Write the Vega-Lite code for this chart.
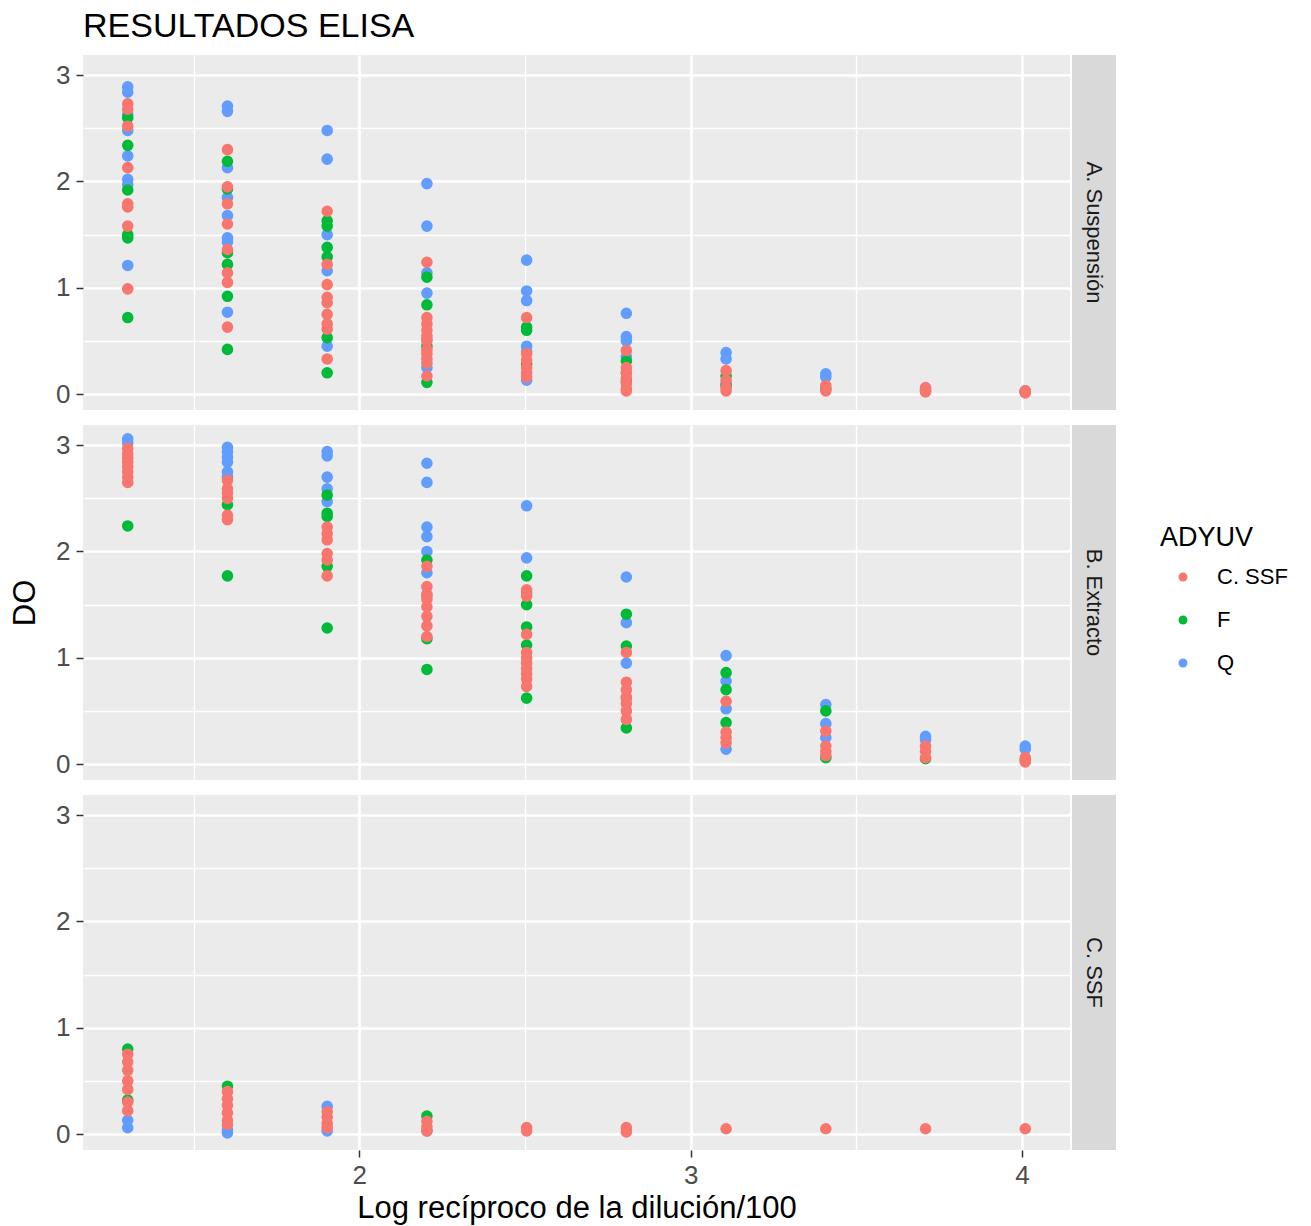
{
  "$schema": "https://vega.github.io/schema/vega-lite/v6.json",
  "padding": {"left": 9, "top": 10, "right": 5, "bottom": 2},
  "title": {"text": "RESULTADOS ELISA", "anchor": "start", "frame": "group", "fontSize": 34, "fontWeight": "normal", "color": "#000000", "offset": 11},
  "datasets": {
    "elisa": [
      {"panel":"A. Suspensión","dil":1.301,"adyuv":"Q","do":2.89},
      {"panel":"A. Suspensión","dil":1.301,"adyuv":"Q","do":2.84},
      {"panel":"A. Suspensión","dil":1.301,"adyuv":"Q","do":2.63},
      {"panel":"A. Suspensión","dil":1.301,"adyuv":"Q","do":2.48},
      {"panel":"A. Suspensión","dil":1.301,"adyuv":"Q","do":2.24},
      {"panel":"A. Suspensión","dil":1.301,"adyuv":"Q","do":2.02},
      {"panel":"A. Suspensión","dil":1.301,"adyuv":"Q","do":1.97},
      {"panel":"A. Suspensión","dil":1.301,"adyuv":"Q","do":1.21},
      {"panel":"A. Suspensión","dil":1.301,"adyuv":"F","do":2.60},
      {"panel":"A. Suspensión","dil":1.301,"adyuv":"F","do":2.34},
      {"panel":"A. Suspensión","dil":1.301,"adyuv":"F","do":1.92},
      {"panel":"A. Suspensión","dil":1.301,"adyuv":"F","do":1.50},
      {"panel":"A. Suspensión","dil":1.301,"adyuv":"F","do":1.47},
      {"panel":"A. Suspensión","dil":1.301,"adyuv":"F","do":0.72},
      {"panel":"A. Suspensión","dil":1.301,"adyuv":"C. SSF","do":2.73},
      {"panel":"A. Suspensión","dil":1.301,"adyuv":"C. SSF","do":2.68},
      {"panel":"A. Suspensión","dil":1.301,"adyuv":"C. SSF","do":2.52},
      {"panel":"A. Suspensión","dil":1.301,"adyuv":"C. SSF","do":2.13},
      {"panel":"A. Suspensión","dil":1.301,"adyuv":"C. SSF","do":1.79},
      {"panel":"A. Suspensión","dil":1.301,"adyuv":"C. SSF","do":1.76},
      {"panel":"A. Suspensión","dil":1.301,"adyuv":"C. SSF","do":1.58},
      {"panel":"A. Suspensión","dil":1.301,"adyuv":"C. SSF","do":0.99},
      {"panel":"A. Suspensión","dil":1.602,"adyuv":"Q","do":2.71},
      {"panel":"A. Suspensión","dil":1.602,"adyuv":"Q","do":2.66},
      {"panel":"A. Suspensión","dil":1.602,"adyuv":"Q","do":2.13},
      {"panel":"A. Suspensión","dil":1.602,"adyuv":"Q","do":1.85},
      {"panel":"A. Suspensión","dil":1.602,"adyuv":"Q","do":1.68},
      {"panel":"A. Suspensión","dil":1.602,"adyuv":"Q","do":1.47},
      {"panel":"A. Suspensión","dil":1.602,"adyuv":"Q","do":1.43},
      {"panel":"A. Suspensión","dil":1.602,"adyuv":"Q","do":0.77},
      {"panel":"A. Suspensión","dil":1.602,"adyuv":"F","do":2.19},
      {"panel":"A. Suspensión","dil":1.602,"adyuv":"F","do":1.93},
      {"panel":"A. Suspensión","dil":1.602,"adyuv":"F","do":1.33},
      {"panel":"A. Suspensión","dil":1.602,"adyuv":"F","do":1.22},
      {"panel":"A. Suspensión","dil":1.602,"adyuv":"F","do":0.92},
      {"panel":"A. Suspensión","dil":1.602,"adyuv":"F","do":0.42},
      {"panel":"A. Suspensión","dil":1.602,"adyuv":"C. SSF","do":2.30},
      {"panel":"A. Suspensión","dil":1.602,"adyuv":"C. SSF","do":1.95},
      {"panel":"A. Suspensión","dil":1.602,"adyuv":"C. SSF","do":1.79},
      {"panel":"A. Suspensión","dil":1.602,"adyuv":"C. SSF","do":1.60},
      {"panel":"A. Suspensión","dil":1.602,"adyuv":"C. SSF","do":1.36},
      {"panel":"A. Suspensión","dil":1.602,"adyuv":"C. SSF","do":1.14},
      {"panel":"A. Suspensión","dil":1.602,"adyuv":"C. SSF","do":1.05},
      {"panel":"A. Suspensión","dil":1.602,"adyuv":"C. SSF","do":0.63},
      {"panel":"A. Suspensión","dil":1.903,"adyuv":"Q","do":2.48},
      {"panel":"A. Suspensión","dil":1.903,"adyuv":"Q","do":2.21},
      {"panel":"A. Suspensión","dil":1.903,"adyuv":"Q","do":1.50},
      {"panel":"A. Suspensión","dil":1.903,"adyuv":"Q","do":1.16},
      {"panel":"A. Suspensión","dil":1.903,"adyuv":"Q","do":0.45},
      {"panel":"A. Suspensión","dil":1.903,"adyuv":"F","do":1.63},
      {"panel":"A. Suspensión","dil":1.903,"adyuv":"F","do":1.58},
      {"panel":"A. Suspensión","dil":1.903,"adyuv":"F","do":1.38},
      {"panel":"A. Suspensión","dil":1.903,"adyuv":"F","do":1.29},
      {"panel":"A. Suspensión","dil":1.903,"adyuv":"F","do":0.53},
      {"panel":"A. Suspensión","dil":1.903,"adyuv":"F","do":0.20},
      {"panel":"A. Suspensión","dil":1.903,"adyuv":"C. SSF","do":1.72},
      {"panel":"A. Suspensión","dil":1.903,"adyuv":"C. SSF","do":1.22},
      {"panel":"A. Suspensión","dil":1.903,"adyuv":"C. SSF","do":1.03},
      {"panel":"A. Suspensión","dil":1.903,"adyuv":"C. SSF","do":0.91},
      {"panel":"A. Suspensión","dil":1.903,"adyuv":"C. SSF","do":0.86},
      {"panel":"A. Suspensión","dil":1.903,"adyuv":"C. SSF","do":0.75},
      {"panel":"A. Suspensión","dil":1.903,"adyuv":"C. SSF","do":0.66},
      {"panel":"A. Suspensión","dil":1.903,"adyuv":"C. SSF","do":0.61},
      {"panel":"A. Suspensión","dil":1.903,"adyuv":"C. SSF","do":0.33},
      {"panel":"A. Suspensión","dil":2.204,"adyuv":"Q","do":1.98},
      {"panel":"A. Suspensión","dil":2.204,"adyuv":"Q","do":1.58},
      {"panel":"A. Suspensión","dil":2.204,"adyuv":"Q","do":1.14},
      {"panel":"A. Suspensión","dil":2.204,"adyuv":"Q","do":0.95},
      {"panel":"A. Suspensión","dil":2.204,"adyuv":"Q","do":0.52},
      {"panel":"A. Suspensión","dil":2.204,"adyuv":"Q","do":0.25},
      {"panel":"A. Suspensión","dil":2.204,"adyuv":"F","do":1.10},
      {"panel":"A. Suspensión","dil":2.204,"adyuv":"F","do":0.84},
      {"panel":"A. Suspensión","dil":2.204,"adyuv":"F","do":0.45},
      {"panel":"A. Suspensión","dil":2.204,"adyuv":"F","do":0.11},
      {"panel":"A. Suspensión","dil":2.204,"adyuv":"C. SSF","do":1.24},
      {"panel":"A. Suspensión","dil":2.204,"adyuv":"C. SSF","do":0.72},
      {"panel":"A. Suspensión","dil":2.204,"adyuv":"C. SSF","do":0.66},
      {"panel":"A. Suspensión","dil":2.204,"adyuv":"C. SSF","do":0.60},
      {"panel":"A. Suspensión","dil":2.204,"adyuv":"C. SSF","do":0.55},
      {"panel":"A. Suspensión","dil":2.204,"adyuv":"C. SSF","do":0.50},
      {"panel":"A. Suspensión","dil":2.204,"adyuv":"C. SSF","do":0.42},
      {"panel":"A. Suspensión","dil":2.204,"adyuv":"C. SSF","do":0.38},
      {"panel":"A. Suspensión","dil":2.204,"adyuv":"C. SSF","do":0.33},
      {"panel":"A. Suspensión","dil":2.204,"adyuv":"C. SSF","do":0.29},
      {"panel":"A. Suspensión","dil":2.204,"adyuv":"C. SSF","do":0.17},
      {"panel":"A. Suspensión","dil":2.505,"adyuv":"Q","do":1.26},
      {"panel":"A. Suspensión","dil":2.505,"adyuv":"Q","do":0.97},
      {"panel":"A. Suspensión","dil":2.505,"adyuv":"Q","do":0.88},
      {"panel":"A. Suspensión","dil":2.505,"adyuv":"Q","do":0.45},
      {"panel":"A. Suspensión","dil":2.505,"adyuv":"Q","do":0.40},
      {"panel":"A. Suspensión","dil":2.505,"adyuv":"Q","do":0.13},
      {"panel":"A. Suspensión","dil":2.505,"adyuv":"F","do":0.63},
      {"panel":"A. Suspensión","dil":2.505,"adyuv":"F","do":0.60},
      {"panel":"A. Suspensión","dil":2.505,"adyuv":"F","do":0.28},
      {"panel":"A. Suspensión","dil":2.505,"adyuv":"C. SSF","do":0.72},
      {"panel":"A. Suspensión","dil":2.505,"adyuv":"C. SSF","do":0.38},
      {"panel":"A. Suspensión","dil":2.505,"adyuv":"C. SSF","do":0.32},
      {"panel":"A. Suspensión","dil":2.505,"adyuv":"C. SSF","do":0.25},
      {"panel":"A. Suspensión","dil":2.505,"adyuv":"C. SSF","do":0.20},
      {"panel":"A. Suspensión","dil":2.505,"adyuv":"C. SSF","do":0.16},
      {"panel":"A. Suspensión","dil":2.806,"adyuv":"Q","do":0.76},
      {"panel":"A. Suspensión","dil":2.806,"adyuv":"Q","do":0.54},
      {"panel":"A. Suspensión","dil":2.806,"adyuv":"Q","do":0.50},
      {"panel":"A. Suspensión","dil":2.806,"adyuv":"Q","do":0.35},
      {"panel":"A. Suspensión","dil":2.806,"adyuv":"Q","do":0.20},
      {"panel":"A. Suspensión","dil":2.806,"adyuv":"F","do":0.31},
      {"panel":"A. Suspensión","dil":2.806,"adyuv":"F","do":0.12},
      {"panel":"A. Suspensión","dil":2.806,"adyuv":"C. SSF","do":0.41},
      {"panel":"A. Suspensión","dil":2.806,"adyuv":"C. SSF","do":0.25},
      {"panel":"A. Suspensión","dil":2.806,"adyuv":"C. SSF","do":0.20},
      {"panel":"A. Suspensión","dil":2.806,"adyuv":"C. SSF","do":0.15},
      {"panel":"A. Suspensión","dil":2.806,"adyuv":"C. SSF","do":0.10},
      {"panel":"A. Suspensión","dil":2.806,"adyuv":"C. SSF","do":0.05},
      {"panel":"A. Suspensión","dil":2.806,"adyuv":"C. SSF","do":0.03},
      {"panel":"A. Suspensión","dil":3.107,"adyuv":"Q","do":0.39},
      {"panel":"A. Suspensión","dil":3.107,"adyuv":"Q","do":0.33},
      {"panel":"A. Suspensión","dil":3.107,"adyuv":"Q","do":0.10},
      {"panel":"A. Suspensión","dil":3.107,"adyuv":"F","do":0.17},
      {"panel":"A. Suspensión","dil":3.107,"adyuv":"F","do":0.08},
      {"panel":"A. Suspensión","dil":3.107,"adyuv":"C. SSF","do":0.22},
      {"panel":"A. Suspensión","dil":3.107,"adyuv":"C. SSF","do":0.13},
      {"panel":"A. Suspensión","dil":3.107,"adyuv":"C. SSF","do":0.06},
      {"panel":"A. Suspensión","dil":3.107,"adyuv":"C. SSF","do":0.03},
      {"panel":"A. Suspensión","dil":3.408,"adyuv":"Q","do":0.19},
      {"panel":"A. Suspensión","dil":3.408,"adyuv":"Q","do":0.16},
      {"panel":"A. Suspensión","dil":3.408,"adyuv":"F","do":0.05},
      {"panel":"A. Suspensión","dil":3.408,"adyuv":"C. SSF","do":0.08},
      {"panel":"A. Suspensión","dil":3.408,"adyuv":"C. SSF","do":0.03},
      {"panel":"A. Suspensión","dil":3.709,"adyuv":"Q","do":0.05},
      {"panel":"A. Suspensión","dil":3.709,"adyuv":"F","do":0.03},
      {"panel":"A. Suspensión","dil":3.709,"adyuv":"C. SSF","do":0.06},
      {"panel":"A. Suspensión","dil":3.709,"adyuv":"C. SSF","do":0.02},
      {"panel":"A. Suspensión","dil":4.010,"adyuv":"Q","do":0.03},
      {"panel":"A. Suspensión","dil":4.010,"adyuv":"F","do":0.02},
      {"panel":"A. Suspensión","dil":4.010,"adyuv":"C. SSF","do":0.03},
      {"panel":"A. Suspensión","dil":4.010,"adyuv":"C. SSF","do":0.01},

      {"panel":"B. Extracto","dil":1.301,"adyuv":"Q","do":3.06},
      {"panel":"B. Extracto","dil":1.301,"adyuv":"Q","do":3.02},
      {"panel":"B. Extracto","dil":1.301,"adyuv":"F","do":2.24},
      {"panel":"B. Extracto","dil":1.301,"adyuv":"C. SSF","do":2.97},
      {"panel":"B. Extracto","dil":1.301,"adyuv":"C. SSF","do":2.92},
      {"panel":"B. Extracto","dil":1.301,"adyuv":"C. SSF","do":2.88},
      {"panel":"B. Extracto","dil":1.301,"adyuv":"C. SSF","do":2.84},
      {"panel":"B. Extracto","dil":1.301,"adyuv":"C. SSF","do":2.80},
      {"panel":"B. Extracto","dil":1.301,"adyuv":"C. SSF","do":2.75},
      {"panel":"B. Extracto","dil":1.301,"adyuv":"C. SSF","do":2.70},
      {"panel":"B. Extracto","dil":1.301,"adyuv":"C. SSF","do":2.65},
      {"panel":"B. Extracto","dil":1.602,"adyuv":"Q","do":2.98},
      {"panel":"B. Extracto","dil":1.602,"adyuv":"Q","do":2.94},
      {"panel":"B. Extracto","dil":1.602,"adyuv":"Q","do":2.89},
      {"panel":"B. Extracto","dil":1.602,"adyuv":"Q","do":2.84},
      {"panel":"B. Extracto","dil":1.602,"adyuv":"Q","do":2.75},
      {"panel":"B. Extracto","dil":1.602,"adyuv":"Q","do":2.70},
      {"panel":"B. Extracto","dil":1.602,"adyuv":"F","do":2.44},
      {"panel":"B. Extracto","dil":1.602,"adyuv":"F","do":1.77},
      {"panel":"B. Extracto","dil":1.602,"adyuv":"C. SSF","do":2.67},
      {"panel":"B. Extracto","dil":1.602,"adyuv":"C. SSF","do":2.59},
      {"panel":"B. Extracto","dil":1.602,"adyuv":"C. SSF","do":2.55},
      {"panel":"B. Extracto","dil":1.602,"adyuv":"C. SSF","do":2.50},
      {"panel":"B. Extracto","dil":1.602,"adyuv":"C. SSF","do":2.34},
      {"panel":"B. Extracto","dil":1.602,"adyuv":"C. SSF","do":2.30},
      {"panel":"B. Extracto","dil":1.903,"adyuv":"Q","do":2.94},
      {"panel":"B. Extracto","dil":1.903,"adyuv":"Q","do":2.90},
      {"panel":"B. Extracto","dil":1.903,"adyuv":"Q","do":2.70},
      {"panel":"B. Extracto","dil":1.903,"adyuv":"Q","do":2.59},
      {"panel":"B. Extracto","dil":1.903,"adyuv":"Q","do":2.47},
      {"panel":"B. Extracto","dil":1.903,"adyuv":"F","do":2.53},
      {"panel":"B. Extracto","dil":1.903,"adyuv":"F","do":2.36},
      {"panel":"B. Extracto","dil":1.903,"adyuv":"F","do":2.33},
      {"panel":"B. Extracto","dil":1.903,"adyuv":"F","do":1.86},
      {"panel":"B. Extracto","dil":1.903,"adyuv":"F","do":1.28},
      {"panel":"B. Extracto","dil":1.903,"adyuv":"C. SSF","do":2.23},
      {"panel":"B. Extracto","dil":1.903,"adyuv":"C. SSF","do":2.17},
      {"panel":"B. Extracto","dil":1.903,"adyuv":"C. SSF","do":2.11},
      {"panel":"B. Extracto","dil":1.903,"adyuv":"C. SSF","do":1.98},
      {"panel":"B. Extracto","dil":1.903,"adyuv":"C. SSF","do":1.92},
      {"panel":"B. Extracto","dil":1.903,"adyuv":"C. SSF","do":1.77},
      {"panel":"B. Extracto","dil":2.204,"adyuv":"Q","do":2.83},
      {"panel":"B. Extracto","dil":2.204,"adyuv":"Q","do":2.65},
      {"panel":"B. Extracto","dil":2.204,"adyuv":"Q","do":2.23},
      {"panel":"B. Extracto","dil":2.204,"adyuv":"Q","do":2.14},
      {"panel":"B. Extracto","dil":2.204,"adyuv":"Q","do":2.00},
      {"panel":"B. Extracto","dil":2.204,"adyuv":"Q","do":1.80},
      {"panel":"B. Extracto","dil":2.204,"adyuv":"Q","do":1.58},
      {"panel":"B. Extracto","dil":2.204,"adyuv":"F","do":1.92},
      {"panel":"B. Extracto","dil":2.204,"adyuv":"F","do":1.18},
      {"panel":"B. Extracto","dil":2.204,"adyuv":"F","do":0.89},
      {"panel":"B. Extracto","dil":2.204,"adyuv":"C. SSF","do":1.86},
      {"panel":"B. Extracto","dil":2.204,"adyuv":"C. SSF","do":1.67},
      {"panel":"B. Extracto","dil":2.204,"adyuv":"C. SSF","do":1.60},
      {"panel":"B. Extracto","dil":2.204,"adyuv":"C. SSF","do":1.55},
      {"panel":"B. Extracto","dil":2.204,"adyuv":"C. SSF","do":1.48},
      {"panel":"B. Extracto","dil":2.204,"adyuv":"C. SSF","do":1.39},
      {"panel":"B. Extracto","dil":2.204,"adyuv":"C. SSF","do":1.30},
      {"panel":"B. Extracto","dil":2.204,"adyuv":"C. SSF","do":1.20},
      {"panel":"B. Extracto","dil":2.505,"adyuv":"Q","do":2.43},
      {"panel":"B. Extracto","dil":2.505,"adyuv":"Q","do":1.94},
      {"panel":"B. Extracto","dil":2.505,"adyuv":"Q","do":1.61},
      {"panel":"B. Extracto","dil":2.505,"adyuv":"F","do":1.77},
      {"panel":"B. Extracto","dil":2.505,"adyuv":"F","do":1.50},
      {"panel":"B. Extracto","dil":2.505,"adyuv":"F","do":1.29},
      {"panel":"B. Extracto","dil":2.505,"adyuv":"F","do":1.12},
      {"panel":"B. Extracto","dil":2.505,"adyuv":"F","do":0.62},
      {"panel":"B. Extracto","dil":2.505,"adyuv":"C. SSF","do":1.64},
      {"panel":"B. Extracto","dil":2.505,"adyuv":"C. SSF","do":1.58},
      {"panel":"B. Extracto","dil":2.505,"adyuv":"C. SSF","do":1.22},
      {"panel":"B. Extracto","dil":2.505,"adyuv":"C. SSF","do":1.05},
      {"panel":"B. Extracto","dil":2.505,"adyuv":"C. SSF","do":1.00},
      {"panel":"B. Extracto","dil":2.505,"adyuv":"C. SSF","do":0.95},
      {"panel":"B. Extracto","dil":2.505,"adyuv":"C. SSF","do":0.90},
      {"panel":"B. Extracto","dil":2.505,"adyuv":"C. SSF","do":0.85},
      {"panel":"B. Extracto","dil":2.505,"adyuv":"C. SSF","do":0.80},
      {"panel":"B. Extracto","dil":2.505,"adyuv":"C. SSF","do":0.73},
      {"panel":"B. Extracto","dil":2.806,"adyuv":"Q","do":1.76},
      {"panel":"B. Extracto","dil":2.806,"adyuv":"Q","do":1.33},
      {"panel":"B. Extracto","dil":2.806,"adyuv":"Q","do":0.95},
      {"panel":"B. Extracto","dil":2.806,"adyuv":"Q","do":0.62},
      {"panel":"B. Extracto","dil":2.806,"adyuv":"F","do":1.41},
      {"panel":"B. Extracto","dil":2.806,"adyuv":"F","do":1.11},
      {"panel":"B. Extracto","dil":2.806,"adyuv":"F","do":0.34},
      {"panel":"B. Extracto","dil":2.806,"adyuv":"C. SSF","do":1.05},
      {"panel":"B. Extracto","dil":2.806,"adyuv":"C. SSF","do":0.77},
      {"panel":"B. Extracto","dil":2.806,"adyuv":"C. SSF","do":0.70},
      {"panel":"B. Extracto","dil":2.806,"adyuv":"C. SSF","do":0.63},
      {"panel":"B. Extracto","dil":2.806,"adyuv":"C. SSF","do":0.57},
      {"panel":"B. Extracto","dil":2.806,"adyuv":"C. SSF","do":0.50},
      {"panel":"B. Extracto","dil":2.806,"adyuv":"C. SSF","do":0.42},
      {"panel":"B. Extracto","dil":3.107,"adyuv":"Q","do":1.02},
      {"panel":"B. Extracto","dil":3.107,"adyuv":"Q","do":0.78},
      {"panel":"B. Extracto","dil":3.107,"adyuv":"Q","do":0.52},
      {"panel":"B. Extracto","dil":3.107,"adyuv":"Q","do":0.14},
      {"panel":"B. Extracto","dil":3.107,"adyuv":"F","do":0.86},
      {"panel":"B. Extracto","dil":3.107,"adyuv":"F","do":0.70},
      {"panel":"B. Extracto","dil":3.107,"adyuv":"F","do":0.39},
      {"panel":"B. Extracto","dil":3.107,"adyuv":"C. SSF","do":0.59},
      {"panel":"B. Extracto","dil":3.107,"adyuv":"C. SSF","do":0.30},
      {"panel":"B. Extracto","dil":3.107,"adyuv":"C. SSF","do":0.25},
      {"panel":"B. Extracto","dil":3.107,"adyuv":"C. SSF","do":0.20},
      {"panel":"B. Extracto","dil":3.408,"adyuv":"Q","do":0.56},
      {"panel":"B. Extracto","dil":3.408,"adyuv":"Q","do":0.38},
      {"panel":"B. Extracto","dil":3.408,"adyuv":"Q","do":0.25},
      {"panel":"B. Extracto","dil":3.408,"adyuv":"F","do":0.50},
      {"panel":"B. Extracto","dil":3.408,"adyuv":"F","do":0.06},
      {"panel":"B. Extracto","dil":3.408,"adyuv":"C. SSF","do":0.31},
      {"panel":"B. Extracto","dil":3.408,"adyuv":"C. SSF","do":0.17},
      {"panel":"B. Extracto","dil":3.408,"adyuv":"C. SSF","do":0.12},
      {"panel":"B. Extracto","dil":3.408,"adyuv":"C. SSF","do":0.08},
      {"panel":"B. Extracto","dil":3.709,"adyuv":"Q","do":0.26},
      {"panel":"B. Extracto","dil":3.709,"adyuv":"Q","do":0.23},
      {"panel":"B. Extracto","dil":3.709,"adyuv":"F","do":0.05},
      {"panel":"B. Extracto","dil":3.709,"adyuv":"C. SSF","do":0.17},
      {"panel":"B. Extracto","dil":3.709,"adyuv":"C. SSF","do":0.12},
      {"panel":"B. Extracto","dil":3.709,"adyuv":"C. SSF","do":0.06},
      {"panel":"B. Extracto","dil":4.010,"adyuv":"Q","do":0.17},
      {"panel":"B. Extracto","dil":4.010,"adyuv":"Q","do":0.14},
      {"panel":"B. Extracto","dil":4.010,"adyuv":"F","do":0.04},
      {"panel":"B. Extracto","dil":4.010,"adyuv":"C. SSF","do":0.06},
      {"panel":"B. Extracto","dil":4.010,"adyuv":"C. SSF","do":0.02},

      {"panel":"C. SSF","dil":1.301,"adyuv":"F","do":0.80},
      {"panel":"C. SSF","dil":1.301,"adyuv":"F","do":0.32},
      {"panel":"C. SSF","dil":1.301,"adyuv":"Q","do":0.13},
      {"panel":"C. SSF","dil":1.301,"adyuv":"Q","do":0.06},
      {"panel":"C. SSF","dil":1.301,"adyuv":"C. SSF","do":0.75},
      {"panel":"C. SSF","dil":1.301,"adyuv":"C. SSF","do":0.68},
      {"panel":"C. SSF","dil":1.301,"adyuv":"C. SSF","do":0.60},
      {"panel":"C. SSF","dil":1.301,"adyuv":"C. SSF","do":0.50},
      {"panel":"C. SSF","dil":1.301,"adyuv":"C. SSF","do":0.42},
      {"panel":"C. SSF","dil":1.301,"adyuv":"C. SSF","do":0.30},
      {"panel":"C. SSF","dil":1.301,"adyuv":"C. SSF","do":0.22},
      {"panel":"C. SSF","dil":1.602,"adyuv":"F","do":0.45},
      {"panel":"C. SSF","dil":1.602,"adyuv":"Q","do":0.04},
      {"panel":"C. SSF","dil":1.602,"adyuv":"Q","do":0.01},
      {"panel":"C. SSF","dil":1.602,"adyuv":"C. SSF","do":0.40},
      {"panel":"C. SSF","dil":1.602,"adyuv":"C. SSF","do":0.33},
      {"panel":"C. SSF","dil":1.602,"adyuv":"C. SSF","do":0.27},
      {"panel":"C. SSF","dil":1.602,"adyuv":"C. SSF","do":0.20},
      {"panel":"C. SSF","dil":1.602,"adyuv":"C. SSF","do":0.13},
      {"panel":"C. SSF","dil":1.602,"adyuv":"C. SSF","do":0.09},
      {"panel":"C. SSF","dil":1.903,"adyuv":"Q","do":0.26},
      {"panel":"C. SSF","dil":1.903,"adyuv":"Q","do":0.03},
      {"panel":"C. SSF","dil":1.903,"adyuv":"C. SSF","do":0.21},
      {"panel":"C. SSF","dil":1.903,"adyuv":"C. SSF","do":0.16},
      {"panel":"C. SSF","dil":1.903,"adyuv":"C. SSF","do":0.10},
      {"panel":"C. SSF","dil":1.903,"adyuv":"C. SSF","do":0.06},
      {"panel":"C. SSF","dil":2.204,"adyuv":"F","do":0.17},
      {"panel":"C. SSF","dil":2.204,"adyuv":"Q","do":0.03},
      {"panel":"C. SSF","dil":2.204,"adyuv":"C. SSF","do":0.12},
      {"panel":"C. SSF","dil":2.204,"adyuv":"C. SSF","do":0.07},
      {"panel":"C. SSF","dil":2.204,"adyuv":"C. SSF","do":0.03},
      {"panel":"C. SSF","dil":2.505,"adyuv":"C. SSF","do":0.06},
      {"panel":"C. SSF","dil":2.505,"adyuv":"C. SSF","do":0.03},
      {"panel":"C. SSF","dil":2.806,"adyuv":"C. SSF","do":0.06},
      {"panel":"C. SSF","dil":2.806,"adyuv":"C. SSF","do":0.02},
      {"panel":"C. SSF","dil":3.107,"adyuv":"C. SSF","do":0.05},
      {"panel":"C. SSF","dil":3.408,"adyuv":"C. SSF","do":0.05},
      {"panel":"C. SSF","dil":3.709,"adyuv":"C. SSF","do":0.05},
      {"panel":"C. SSF","dil":4.010,"adyuv":"C. SSF","do":0.05}
    ]
  },
  "vconcat": [
    {
      "hconcat": [
        {
          "width": 987, "height": 355,
          "data": {"name": "elisa"},
          "transform": [{"filter": {"field": "panel", "equal": "A. Suspensión"}}],
          "mark": {"type": "circle", "size": 135, "opacity": 1},
          "encoding": {
            "x": {"field": "dil", "type": "quantitative",
                  "scale": {"domain": [1.166, 4.145], "nice": false, "zero": false},
                  "axis": {"values": [1.5, 2, 2.5, 3, 3.5, 4], "labels": false, "ticks": false, "title": null,
                           "gridWidth": {"condition": {"test": "datum.value % 1 !== 0", "value": 1.3}, "value": 2.6}}},
            "y": {"field": "do", "type": "quantitative",
                  "scale": {"domain": [-0.15, 3.19], "nice": false, "zero": false},
                  "axis": {"values": [0, 0.5, 1, 1.5, 2, 2.5, 3], "title": null, "labelOverlap": false,
                           "labelExpr": "datum.value % 1 === 0 ? format(datum.value, 'd') : ''",
                           "tickOpacity": {"condition": {"test": "datum.value % 1 !== 0", "value": 0}, "value": 1},
                           "gridWidth": {"condition": {"test": "datum.value % 1 !== 0", "value": 1.3}, "value": 2.6}}},
            "color": {"field": "adyuv", "type": "nominal",
                      "scale": {"domain": ["C. SSF", "F", "Q"], "range": ["#F8766D", "#00BA38", "#619CFF"]},
                      "legend": {"title": "ADYUV", "orient": "none", "legendX": 1077, "legendY": 470}}
          }
        },
        {
          "width": 44, "height": 355,
          "data": {"values": [{"panel": "A. Suspensión"}]},
          "view": {"fill": "#D9D9D9", "stroke": null},
          "mark": {"type": "text", "angle": 90, "fontSize": 22, "color": "#1A1A1A"},
          "encoding": {"text": {"field": "panel"}}
        }
      ],
      "spacing": 2
    },
    {
      "hconcat": [
        {
          "width": 987, "height": 355,
          "data": {"name": "elisa"},
          "transform": [{"filter": {"field": "panel", "equal": "B. Extracto"}}],
          "mark": {"type": "circle", "size": 135, "opacity": 1},
          "encoding": {
            "x": {"field": "dil", "type": "quantitative",
                  "scale": {"domain": [1.166, 4.145], "nice": false, "zero": false},
                  "axis": {"values": [1.5, 2, 2.5, 3, 3.5, 4], "labels": false, "ticks": false, "title": null,
                           "gridWidth": {"condition": {"test": "datum.value % 1 !== 0", "value": 1.3}, "value": 2.6}}},
            "y": {"field": "do", "type": "quantitative",
                  "scale": {"domain": [-0.15, 3.19], "nice": false, "zero": false},
                  "axis": {"values": [0, 0.5, 1, 1.5, 2, 2.5, 3], "title": "DO", "titlePadding": 14, "labelOverlap": false,
                           "labelExpr": "datum.value % 1 === 0 ? format(datum.value, 'd') : ''",
                           "tickOpacity": {"condition": {"test": "datum.value % 1 !== 0", "value": 0}, "value": 1},
                           "gridWidth": {"condition": {"test": "datum.value % 1 !== 0", "value": 1.3}, "value": 2.6}}},
            "color": {"field": "adyuv", "type": "nominal",
                      "scale": {"domain": ["C. SSF", "F", "Q"], "range": ["#F8766D", "#00BA38", "#619CFF"]},
                      "legend": {"title": "ADYUV", "orient": "none", "legendX": 1077, "legendY": 470}}
          }
        },
        {
          "width": 44, "height": 355,
          "data": {"values": [{"panel": "B. Extracto"}]},
          "view": {"fill": "#D9D9D9", "stroke": null},
          "mark": {"type": "text", "angle": 90, "fontSize": 22, "color": "#1A1A1A"},
          "encoding": {"text": {"field": "panel"}}
        }
      ],
      "spacing": 2
    },
    {
      "hconcat": [
        {
          "width": 987, "height": 355,
          "data": {"name": "elisa"},
          "transform": [{"filter": {"field": "panel", "equal": "C. SSF"}}],
          "mark": {"type": "circle", "size": 135, "opacity": 1},
          "encoding": {
            "x": {"field": "dil", "type": "quantitative",
                  "scale": {"domain": [1.166, 4.145], "nice": false, "zero": false},
                  "axis": {"values": [1.5, 2, 2.5, 3, 3.5, 4], "title": "Log recíproco de la dilución/100", "titlePadding": 5,
                           "labels": true, "ticks": true, "labelOverlap": false, "labelFlush": false, "labelPadding": 5,
                           "labelExpr": "datum.value % 1 === 0 ? format(datum.value, 'd') : ''",
                           "tickOpacity": {"condition": {"test": "datum.value % 1 !== 0", "value": 0}, "value": 1},
                           "gridWidth": {"condition": {"test": "datum.value % 1 !== 0", "value": 1.3}, "value": 2.6}}},
            "y": {"field": "do", "type": "quantitative",
                  "scale": {"domain": [-0.15, 3.19], "nice": false, "zero": false},
                  "axis": {"values": [0, 0.5, 1, 1.5, 2, 2.5, 3], "title": null, "labelOverlap": false,
                           "labelExpr": "datum.value % 1 === 0 ? format(datum.value, 'd') : ''",
                           "tickOpacity": {"condition": {"test": "datum.value % 1 !== 0", "value": 0}, "value": 1},
                           "gridWidth": {"condition": {"test": "datum.value % 1 !== 0", "value": 1.3}, "value": 2.6}}},
            "color": {"field": "adyuv", "type": "nominal",
                      "scale": {"domain": ["C. SSF", "F", "Q"], "range": ["#F8766D", "#00BA38", "#619CFF"]},
                      "legend": {"title": "ADYUV", "orient": "none", "legendX": 1077, "legendY": 470}}
          }
        },
        {
          "width": 44, "height": 355,
          "data": {"values": [{"panel": "C. SSF"}]},
          "view": {"fill": "#D9D9D9", "stroke": null},
          "mark": {"type": "text", "angle": 90, "fontSize": 22, "color": "#1A1A1A"},
          "encoding": {"text": {"field": "panel"}}
        }
      ],
      "spacing": 2
    }
  ],
  "spacing": 15,
  "config": {
    "font": "Liberation Sans",
    "view": {"fill": "#EBEBEB", "stroke": null},
    "axis": {
      "labelFont": "Liberation Sans", "titleFont": "Liberation Sans",
      "labelFontSize": 26, "titleFontSize": 31, "titleFontWeight": "normal",
      "labelColor": "#4D4D4D", "titleColor": "#000000",
      "tickColor": "#333333", "tickSize": 7, "tickWidth": 1.5,
      "domain": false, "gridColor": "#FFFFFF", "labelPadding": 6
    },
    "legend": {
      "titleFont": "Liberation Sans", "labelFont": "Liberation Sans",
      "titleFontSize": 27, "titleFontWeight": "normal", "titleColor": "#000000",
      "labelFontSize": 22, "labelColor": "#000000",
      "symbolType": "circle", "symbolSize": 80, "symbolStrokeWidth": 0,
      "symbolOffset": 12, "rowPadding": 21, "titlePadding": 14, "labelOffset": 23
    }
  }
}
